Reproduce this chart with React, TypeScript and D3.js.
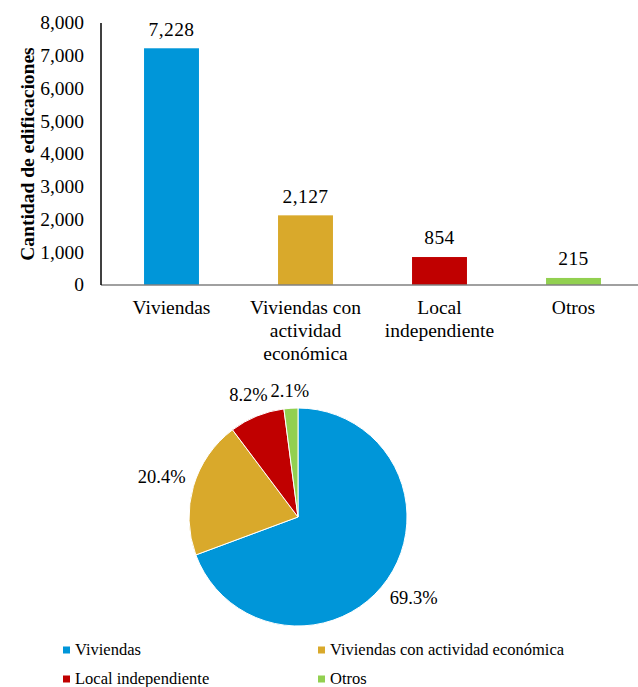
import React from "react";
import * as d3 from "d3";

const categories = ["Viviendas", "Viviendas con actividad económica", "Local independiente", "Otros"];
const axisLabels = [["Viviendas"], ["Viviendas con", "actividad", "económica"], ["Local", "independiente"], ["Otros"]];
const values = [7228, 2127, 854, 215];
const colors = ["#0096D9", "#D9A92B", "#C00000", "#92D050"];
const yTicks = [0, 1000, 2000, 3000, 4000, 5000, 6000, 7000, 8000];

const FONT = '"Liberation Serif"';

export default function App() {
  const W = 638, H = 687;
  const x = d3.scaleBand<number>().domain(d3.range(values.length)).range([104.5, 640.5]).paddingInner(0.59).paddingOuter(0.295);
  const y = d3.scaleLinear().domain([0, 8000]).range([285, 23]);
  const fmt = d3.format(",");
  const total = d3.sum(values);
  const pie = d3.pie<number>().sort(null).value((d) => d)(values);
  const R = 109;
  const cx = 298, cy = 517;
  const arc = d3.arc<d3.PieArcDatum<number>>().innerRadius(0).outerRadius(R);
  const pctFmt = d3.format(".1%");
  const ax = { fontFamily: FONT, fontSize: "19.5px" } as React.CSSProperties;
  const dl = { fontFamily: FONT, fontSize: "19.5px", letterSpacing: "0.4px" } as React.CSSProperties;
  const pl = { fontFamily: FONT, fontSize: "18.5px" } as React.CSSProperties;
  const lg = { fontFamily: FONT, fontSize: "16.5px" } as React.CSSProperties;

  return (
    <svg width={W} height={H} style={{ position: "absolute", left: 0, top: 0, background: "#fff" }}>
      {/* bar chart */}
      {values.map((v, i) => (
        <rect key={i} x={x(i)} width={x.bandwidth()} y={y(v)} height={y(0) - y(v)} fill={colors[i]} />
      ))}
      <line x1={101} x2={638} y1={y(0)} y2={y(0)} stroke="#808080" strokeWidth={1.5} />
      <line x1={101} x2={101} y1={y(8000)} y2={y(0)} stroke="#000" strokeWidth={1.5} />
      {yTicks.map((t) => (
        <text key={t} x={84} y={y(t)} dy="0.33em" textAnchor="end" style={ax} fill="#000">{fmt(t)}</text>
      ))}
      <text transform={`translate(28,${(y(0) + y(8000)) / 2}) rotate(-90)`} dy="0.33em" textAnchor="middle" style={{ ...ax, fontWeight: "bold" }} fill="#000">Cantidad de edificaciones</text>
      {values.map((v, i) => (
        <text key={i} x={x(i)! + x.bandwidth() / 2} y={y(v) - 19} dy="0.33em" textAnchor="middle" style={dl} fill="#000">{fmt(v)}</text>
      ))}
      {axisLabels.map((lines, i) => (
        <text key={i} x={x(i)! + x.bandwidth() / 2} y={308} textAnchor="middle" style={ax} fill="#000">
          {lines.map((l, j) => (
            <tspan key={j} x={x(i)! + x.bandwidth() / 2} y={308 + j * 23} dy="0.33em">{l}</tspan>
          ))}
        </text>
      ))}
      {/* pie chart */}
      <g transform={`translate(${cx},${cy})`}>
        {pie.map((p, i) => (
          <path key={i} d={arc(p)!} fill={colors[i]} stroke="#fff" strokeWidth={1} />
        ))}
        {pie.map((p, i) => {
          const a = (p.startAngle + p.endAngle) / 2;
          const s = Math.sin(a), c = -Math.cos(a);
          const label = pctFmt(p.value / total);
          const halfW = label.length * 4.6;
          const dist = R + 9 + halfW * Math.abs(s) + 7 * Math.abs(c);
          return (
            <text key={i} x={dist * s} y={dist * c} dy="0.33em" textAnchor="middle" style={pl} fill="#000">{label}</text>
          );
        })}
      </g>
      {/* legend */}
      {categories.map((c, i) => {
        const lx = i % 2 === 0 ? 63 : 318;
        const ly = i < 2 ? 650 : 679;
        return (
          <g key={i}>
            <rect x={lx} y={ly - 3.5} width={7} height={7} fill={colors[i]} />
            <text x={lx + 12} y={ly} dy="0.33em" style={lg} fill="#000">{c}</text>
          </g>
        );
      })}
    </svg>
  );
}
